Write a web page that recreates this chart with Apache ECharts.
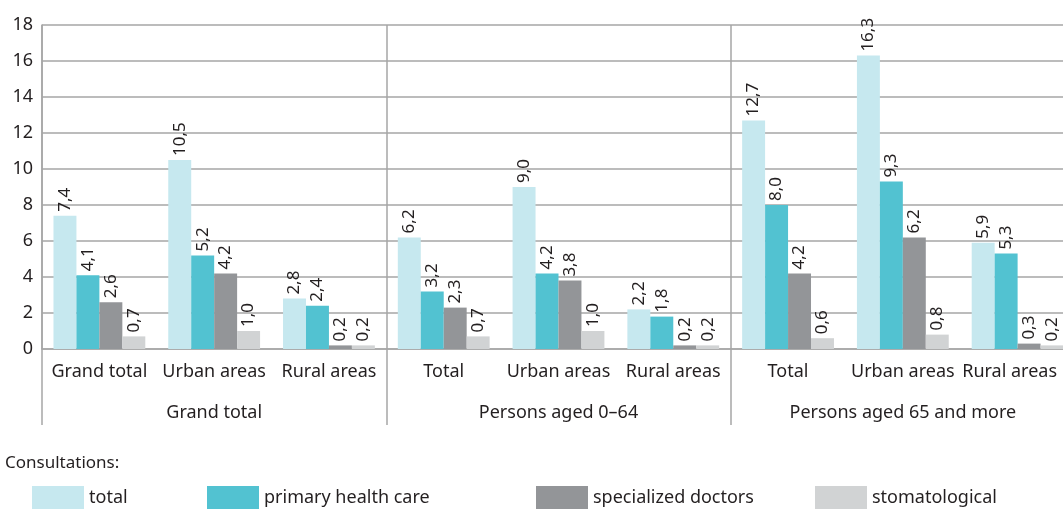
<!DOCTYPE html>
<html>
<head>
<meta charset="utf-8">
<script src="https://cdn.jsdelivr.net/npm/echarts@6/dist/echarts.min.js"></script>
<style>
	html, body { margin: 0; padding: 0; background: #fff; }
	#main { width: 1063px; height: 509px; }
</style>
</head>
<body>
<div id="main"></div>
<script>
var categories = ['Grand total', 'Urban areas', 'Rural areas', 'Total', 'Urban areas', 'Rural areas', 'Total', 'Urban areas', 'Rural areas'];
var groups = ['Grand total', 'Persons aged 0–64', 'Persons aged 65 and more'];
var seriesNames = ['total', 'primary health care', 'specialized doctors', 'stomatological'];
var totalVals = [7.4, 10.5, 2.8, 6.2, 9.0, 2.2, 12.7, 16.3, 5.9];
var primaryVals = [4.1, 5.2, 2.4, 3.2, 4.2, 1.8, 8.0, 9.3, 5.3];
var specialVals = [2.6, 4.2, 0.2, 2.3, 3.8, 0.2, 4.2, 6.2, 0.3];
var stomaVals = [0.7, 1.0, 0.2, 0.7, 1.0, 0.2, 0.6, 0.8, 0.2];
var colors = ['#c6e8ef', '#52c2d1', '#939598', '#d1d3d4'];

var fontFam = 'Noto Sans';
var textCol = '#231f20';
var lineCol = '#a6a6a6';

var myChart = echarts.init(document.getElementById('main'));

function makeSeries(name, vals, color) {
	return {
		name: name,
		type: 'bar',
		barGap: 0,
		barCategoryGap: '20%',
		itemStyle: { color: color },
		label: {
			show: true,
			position: 'top',
			rotate: 90,
			align: 'left',
			verticalAlign: 'middle',
			distance: 4,
			fontFamily: fontFam,
			fontSize: 17,
			color: textCol,
			formatter: function (p) { return p.value.toFixed(1).replace('.', ','); }
		},
		data: vals
	};
}

// legend items are not evenly spaced, so one legend per item
var legendX = [32, 207, 536, 815];
var legends = seriesNames.map(function (n, i) {
	return {
		data: [n],
		left: legendX[i],
		top: 486,
		padding: 0,
		itemWidth: 52,
		itemHeight: 24,
		icon: 'rect',
		textStyle: { fontFamily: fontFam, fontSize: 18, color: textCol }
	};
});

var option = {
	animation: false,
	color: colors,
	// the plot runs a bit past the right edge of the picture
	grid: { left: 42, right: -12, top: 25, bottom: 160, outerBoundsMode: 'none' },
	legend: legends,
	graphic: [{
		type: 'text',
		left: 5,
		top: 455,
		style: { text: 'Consultations:', fontFamily: fontFam, fontSize: 17, fill: textCol }
	}],
	xAxis: [{
		type: 'category',
		data: categories,
		axisLine: { show: true, lineStyle: { color: lineCol, width: 1.5 } },
		axisTick: { show: false },
		axisLabel: {
			fontFamily: fontFam, fontSize: 18, color: textCol, margin: 14, interval: 0,
			// nudge the last label left so it stays inside the picture
			formatter: function (v, i) { return i === categories.length - 1 ? '{last|' + v + '}' : v; },
			rich: { last: { fontFamily: fontFam, fontSize: 18, color: textCol, padding: [0, 16, 0, 0] } }
		}
	}, {
		type: 'category',
		data: groups,
		position: 'bottom',
		axisLine: { show: false },
		axisTick: { show: true, length: 76, lineStyle: { color: lineCol, width: 1.5 } },
		axisLabel: { fontFamily: fontFam, fontSize: 18, color: textCol, margin: 55 },
		splitLine: { show: true, lineStyle: { color: lineCol, width: 1.5 } }
	}],
	yAxis: {
		type: 'value',
		min: 0,
		max: 18,
		interval: 2,
		axisLine: { show: true, lineStyle: { color: lineCol, width: 1.5 } },
		axisTick: { show: false },
		axisLabel: { fontFamily: fontFam, fontSize: 18, color: textCol, margin: 9 },
		splitLine: { lineStyle: { color: lineCol, width: 1.5 } }
	},
	series: [
		makeSeries(seriesNames[0], totalVals, colors[0]),
		makeSeries(seriesNames[1], primaryVals, colors[1]),
		makeSeries(seriesNames[2], specialVals, colors[2]),
		makeSeries(seriesNames[3], stomaVals, colors[3])
	]
};

myChart.setOption(option);
</script>
</body>
</html>
